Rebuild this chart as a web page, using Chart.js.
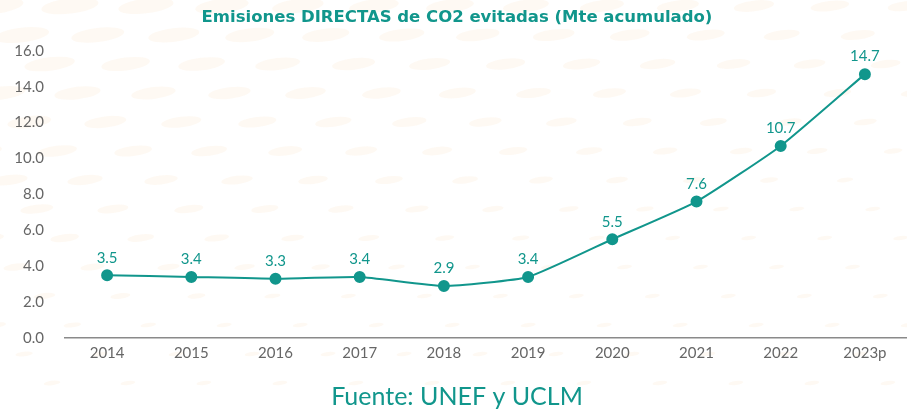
<!DOCTYPE html>
<html>
<head>
<meta charset="utf-8">
<script src="https://cdn.jsdelivr.net/npm/chart.js@4.4.1/dist/chart.umd.min.js"></script>
<style>
  html, body { margin: 0; padding: 0; background: #fff; overflow: hidden; }
  #wrap { width: 914px; height: 412px; position: relative; }
</style>
</head>
<body>
<div id="wrap"><canvas id="myChart"></canvas></div>
<script>
const years = ["2014", "2015", "2016", "2017", "2018", "2019", "2020", "2021", "2022", "2023p"];
const co2Avoided = [3.5, 3.4, 3.3, 3.4, 2.9, 3.4, 5.5, 7.6, 10.7, 14.7];
const yTicks = [0, 2, 4, 6, 8, 10, 12, 14, 16];

const teal = "#11968c";
const fontName = "Lato, 'Noto Sans', sans-serif";

// soft orange dashes painted behind everything
const backdrop = {
    id: 'backdrop',
    beforeDraw(chart) {
        const ctx = chart.ctx;
        ctx.save();
        ctx.fillStyle = "#ffffff";
        ctx.fillRect(0, 0, chart.width, chart.height);
        ctx.fillStyle = "rgba(250, 225, 195, 0.2)";
        let row = 0;
        for (let y = 6; y < chart.height; y += 29) {
            const shift = (row % 2) * 38 - y * 0.35;
            const k = Math.max(0.3, 1 - y / 480);
            for (let x = shift - 80; x < chart.width + 80; x += 76) {
                const fade = Math.max(0.25, k - x / 2400);
                ctx.beginPath();
                ctx.ellipse(x, y, 30 * fade, 8 * fade, -0.12, 0, Math.PI * 2);
                ctx.fill();
            }
            row++;
        }
        ctx.restore();
    }
};

// value written above every point
const pointLabels = {
    id: 'pointLabels',
    afterDatasetsDraw(chart) {
        const ctx = chart.ctx;
        const meta = chart.getDatasetMeta(0);
        ctx.save();
        ctx.fillStyle = teal;
        ctx.font = "15px " + fontName;
        ctx.textAlign = "center";
        ctx.textBaseline = "bottom";
        meta.data.forEach((pt, i) => {
            ctx.fillText(co2Avoided[i].toFixed(1), pt.x, pt.y - 10);
        });
        ctx.restore();
    }
};

const config = {
    type: 'line',
    data: {
        labels: years,
        datasets: [{
            data: co2Avoided,
            borderColor: teal,
            backgroundColor: teal,
            borderWidth: 2,
            pointRadius: 5,
            pointHoverRadius: 5,
            tension: 0.15
        }]
    },
    options: {
        responsive: true,
        maintainAspectRatio: false,
        animation: false,
        layout: {
            padding: 0
        },
        plugins: {
            legend: { display: false },
            tooltip: { enabled: false },
            title: {
                display: true,
                text: 'Emisiones DIRECTAS de CO2 evitadas (Mte acumulado)',
                color: teal,
                font: { family: "'DejaVu Sans', sans-serif", size: 16.5, weight: 'bold' },
                padding: { top: 8, bottom: 23 }
            },
            subtitle: {
                display: true,
                position: 'bottom',
                text: 'Fuente: UNEF y UCLM',
                color: teal,
                font: { family: fontName, size: 25, weight: 'normal' },
                padding: { top: 14, bottom: 0 }
            }
        },
        scales: {
            x: {
                offset: true,
                afterFit(axis) {
                    axis.paddingLeft = 0;
                    axis.paddingRight = 0;
                },
                grid: { display: false, drawTicks: false },
                border: { display: true, color: "#8a8a8a", width: 1.5 },
                ticks: {
                    color: "#666",
                    font: { family: fontName, size: 15 },
                    padding: 6,
                    maxRotation: 0
                }
            },
            y: {
                min: 0,
                max: 16,
                afterBuildTicks(axis) {
                    axis.ticks = yTicks.map(v => ({ value: v }));
                },
                afterFit(axis) {
                    axis.width = 65;
                },
                grid: { display: false, drawTicks: false },
                border: { display: false },
                ticks: {
                    color: "#666",
                    font: { family: fontName, size: 15 },
                    padding: 21,
                    callback: v => Number(v).toFixed(1)
                }
            }
        }
    },
    plugins: [backdrop, pointLabels]
};

myChart = new Chart(document.getElementById('myChart'), config);
</script>
</body>
</html>
